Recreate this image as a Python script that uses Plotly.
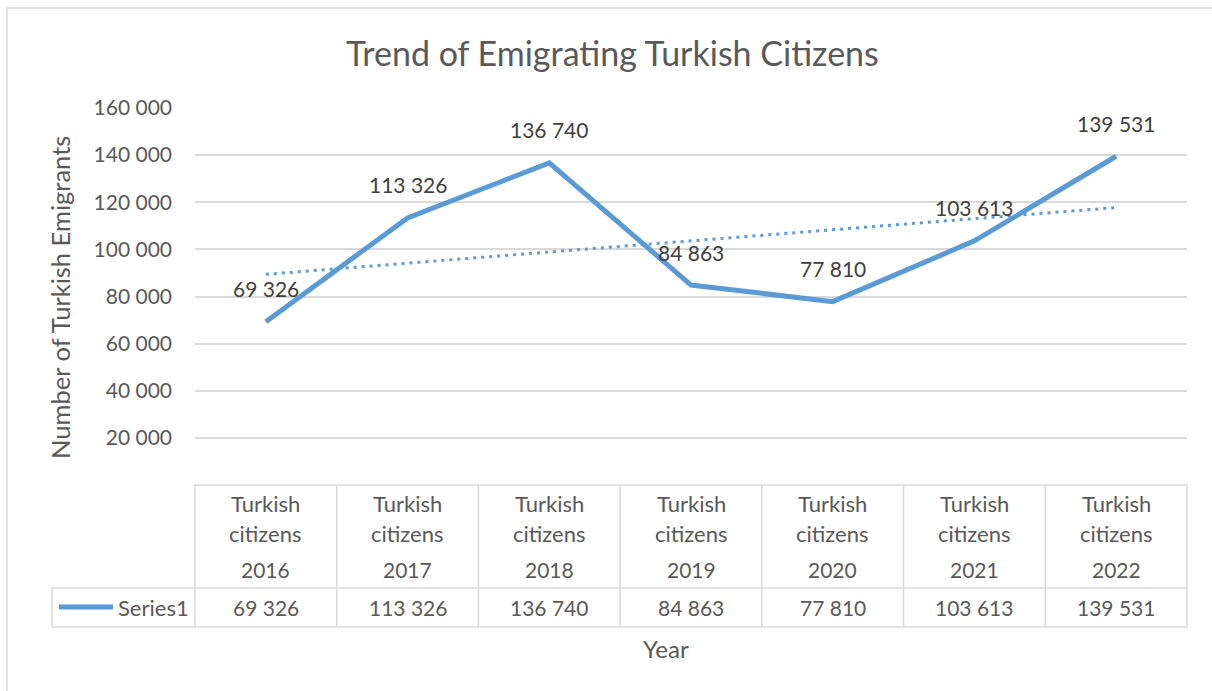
import numpy as np
import plotly.graph_objects as go

# ---- data ----
years = ["2016", "2017", "2018", "2019", "2020", "2021", "2022"]
category_line = "Turkish citizens"
emigrants = [69326, 113326, 136740, 84863, 77810, 103613, 139531]
series_name = "Series1"
y_ticks = [20000, 40000, 60000, 80000, 100000, 120000, 140000, 160000]

title_text = "Trend of Emigrating Turkish Citizens"
y_title = "Number of Turkish Emigrants"
x_title = "Year"

# ---- layout constants (pixels) ----
W, H = 1212, 691
PL, PR, PT, PB = 195, 1187, 108, 485   # plot area
BLUE = "#5B9BD5"
GRID = "#D9D9D9"
TXT = "#595959"
LBL = "#404040"
FONT = "Lato"


def fmt(v):
    return f"{v:,}".replace(",", " ")


def px(x):
    return (x - PL) / (PR - PL)


def py(y):
    return (PB - y) / (PB - PT)


def label(x, y, text, size, color=TXT, xanchor="center", **kw):
    return dict(x=px(x) if not isinstance(x, tuple) else x[0],
                y=py(y), xref="paper", yref="paper", text=text,
                showarrow=False, xanchor=xanchor, yanchor="middle",
                font=dict(family=FONT, size=size, color=color), **kw)


xs = np.arange(len(years))
slope, intercept = np.polyfit(xs + 1, emigrants, 1)
trend = slope * (xs + 1) + intercept

fig = go.Figure()
fig.add_trace(go.Scatter(
    x=xs, y=trend, mode="lines",
    line=dict(color=BLUE, width=3, dash="3px,5px"),
    hoverinfo="skip", showlegend=False,
))
fig.add_trace(go.Scatter(
    x=xs, y=emigrants, mode="lines", name=series_name,
    line=dict(color=BLUE, width=5), showlegend=False,
))

annotations = []
# value labels above points
for i, v in enumerate(emigrants):
    annotations.append(dict(
        x=i, y=v, xref="x", yref="y", text=fmt(v), showarrow=False,
        xanchor="center", yanchor="middle",
        yshift=33, font=dict(family=FONT, size=21, color=LBL),
    ))

shapes = []
line_style = dict(color=GRID, width=1.5)
n = len(years)
# data table grid
top, mid, bot = py(485), py(588), py(627)
for k in range(n + 1):
    shapes.append(dict(type="line", xref="paper", yref="paper",
                       x0=k / n, x1=k / n, y0=top, y1=bot, line=line_style))
shapes.append(dict(type="line", xref="paper", yref="paper",
                   x0=0, x1=1, y0=top, y1=top, line=line_style))
shapes.append(dict(type="line", xref="paper", yref="paper",
                   x0=px(52), x1=1, y0=mid, y1=mid, line=line_style))
shapes.append(dict(type="line", xref="paper", yref="paper",
                   x0=px(52), x1=1, y0=bot, y1=bot, line=line_style))
shapes.append(dict(type="line", xref="paper", yref="paper",
                   x0=px(52), x1=px(52), y0=mid, y1=bot, line=line_style))
# legend key inside the table
shapes.append(dict(type="line", xref="paper", yref="paper",
                   x0=px(59), x1=px(113), y0=py(607), y1=py(607),
                   line=dict(color=BLUE, width=5)))
# outer chart border
shapes.append(dict(type="rect", xref="paper", yref="paper",
                   x0=px(7), x1=px(1230), y0=py(8), y1=py(720),
                   line=dict(color=GRID, width=1.5), layer="below"))

w1, w2 = category_line.split(" ")
for k, yr in enumerate(years):
    cx = (k + 0.5) / n
    annotations.append(label((cx,), 503, w1, 22))
    annotations.append(label((cx,), 533, w2, 22))
    annotations.append(label((cx,), 569, yr, 21))
    annotations.append(label((cx,), 607, fmt(emigrants[k]), 21))
annotations.append(label(116, 607, series_name, 22, xanchor="left"))

# titles
annotations.append(label(612, 53, title_text, 34))
annotations.append(label(60, 298, y_title, 25.5, textangle=-90))
annotations.append(label(666, 648, x_title, 24))

fig.update_layout(
    width=W, height=H,
    margin=dict(l=PL, r=W - PR, t=PT, b=H - PB, pad=0),
    paper_bgcolor="white", plot_bgcolor="white",
    xaxis=dict(range=[-0.5, n - 0.5], showgrid=False, zeroline=False,
               showticklabels=False, showline=False, fixedrange=True),
    yaxis=dict(range=[0, 160000], tickvals=y_ticks,
               ticktext=[fmt(v) for v in y_ticks],
               showgrid=True, gridcolor=GRID, gridwidth=1.5,
               zeroline=False, showline=False, ticks="",
               ticklabelstandoff=22,
               tickfont=dict(family=FONT, size=21, color=TXT)),
    annotations=annotations, shapes=shapes,
    showlegend=False,
)

fig.write_html("out.html")
